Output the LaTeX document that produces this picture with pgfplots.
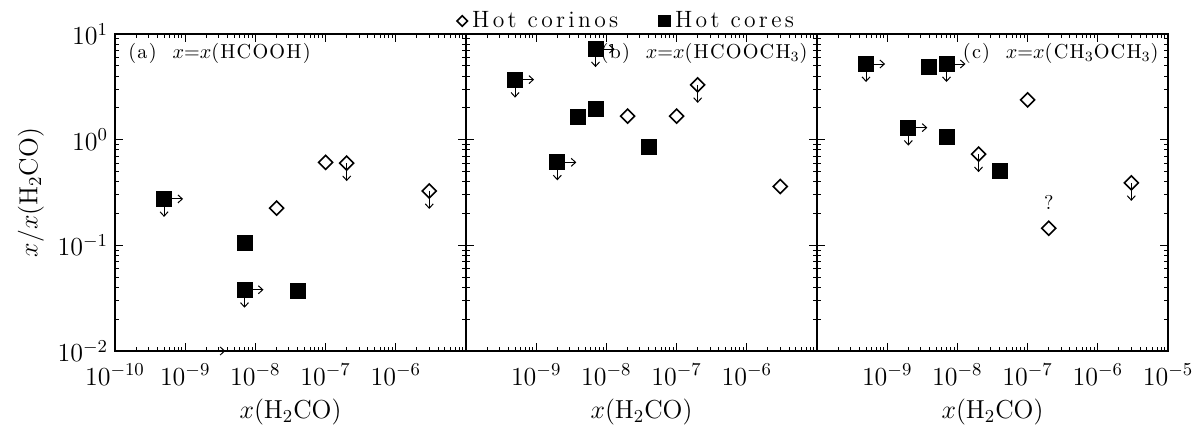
\RequirePackage{fix-cm}
\documentclass[border=0pt]{standalone}
\usepackage{fontspec}
\usepackage{pgfplots}
\pgfplotsset{compat=1.18}
\usetikzlibrary{arrows.meta}

\newfontfamily\lsleg[LetterSpace=14]{Latin Modern Roman}
\newfontfamily\lspan[LetterSpace=6]{Latin Modern Roman}
\newcommand\tickfont{\fontsize{13}{15}\selectfont}
\newcommand\legtext[1]{{\fontsize{11.8}{14}\selectfont\lsleg #1}}
\newcommand\paneltext[1]{{\fontsize{10.1}{12}\selectfont\lspan #1}}

% mark building blocks
\newcommand\arrset{\pgfsetlinewidth{0.5pt}\pgfsetarrowsend{Straight Barb[length=2.2pt,width=4pt]}}
\newcommand\arrdown{\pgfpathmoveto{\pgfqpoint{0pt}{0pt}}\pgfpathlineto{\pgfqpoint{0pt}{-9pt}}\pgfusepath{stroke}}
\newcommand\arrright{\pgfpathmoveto{\pgfqpoint{0pt}{0pt}}\pgfpathlineto{\pgfqpoint{9.5pt}{0pt}}\pgfusepath{stroke}}
\newcommand\sqfill{\pgfsetarrows{-}\pgfpathrectangle{\pgfqpoint{-\pgfplotmarksize}{-\pgfplotmarksize}}{\pgfqpoint{2\pgfplotmarksize}{2\pgfplotmarksize}}\pgfusepath{fill}}
\newcommand\diapath{\pgfsetarrows{-}\pgfsetlinewidth{0.8pt}%
  \pgfpathmoveto{\pgfqpoint{0pt}{\pgfplotmarksize}}%
  \pgfpathlineto{\pgfqpoint{\pgfplotmarksize}{0pt}}%
  \pgfpathlineto{\pgfqpoint{0pt}{-\pgfplotmarksize}}%
  \pgfpathlineto{\pgfqpoint{-\pgfplotmarksize}{0pt}}%
  \pgfpathclose\pgfusepath{stroke}}
\pgfdeclareplotmark{sq}{\sqfill}
\pgfdeclareplotmark{sqdr}{\arrset\arrdown\arrright\sqfill}
\pgfdeclareplotmark{ra}{\arrset\arrright}
\pgfdeclareplotmark{di}{\diapath}
\pgfdeclareplotmark{did}{\diapath\arrset\arrdown}

\begin{document}
\begin{tikzpicture}
\path[use as bounding box] (-57.5pt,-37.5pt) rectangle (540.5pt,175.5pt);

% ---------------- panel (a): HCOOH
\begin{axis}[at={(0pt,0pt)}, anchor=south west,
  xmode=log, ymode=log,
  xmin=1e-10, xmax=1e-5, ymin=1e-2, ymax=1e1,
  scale only axis, width=175.5pt, height=158.5pt,
  tick align=inside, tick pos=both,
  xtick={1e-10,1e-9,1e-8,1e-7,1e-6,1e-5},
  ytick={1e-2,1e-1,1e0,1e1},
  major tick length=4pt, minor tick length=2pt,
  axis line style={line width=1pt},
  tick style={line width=0.5pt, black},
  tick label style={font=\tickfont},
  label style={font=\tickfont},
  xticklabel style={yshift=-3pt},
  xlabel={$x(\mathrm{H_2CO})$},
  xticklabels={$10^{-10}$,$10^{-9}$,$10^{-8}$,$10^{-7}$,$10^{-6}$,{}},
  yticklabels={$10^{-2}$,$10^{-1}$,$10^{0}$,$10^{1}$},
  ylabel={$x/x(\mathrm{H_2CO})$}]
% hot corinos
\addplot[only marks, mark=di, mark size=3.5pt, black] coordinates {(2e-8,0.225) (1e-7,0.61)};
\addplot[only marks, mark=did, mark size=3.5pt, black] coordinates {(2e-7,0.60) (3e-6,0.327)};
% hot cores
\addplot[only marks, mark=sq, mark size=4pt, black] coordinates {(7e-9,0.106) (4e-8,0.037)};
\addplot[only marks, mark=sqdr, mark size=4pt, black] coordinates {(5e-10,0.275) (7e-9,0.038)};
\addplot[only marks, mark=ra, mark size=4pt, black] coordinates {(2e-9,0.01)};
\node[anchor=west, inner sep=0pt] at ([xshift=6.5pt,yshift=-9.5pt]rel axis cs:0,1) {\paneltext{(a)\ \ $x{=}x$(HCOOH)}};
\end{axis}

% ---------------- panel (b): HCOOCH3
\begin{axis}[at={(175.5pt,0pt)}, anchor=south west,
  xmode=log, ymode=log,
  xmin=1e-10, xmax=1e-5, ymin=1e-2, ymax=1e1,
  scale only axis, width=175.5pt, height=158.5pt,
  tick align=inside, tick pos=both,
  xtick={1e-10,1e-9,1e-8,1e-7,1e-6,1e-5},
  ytick={1e-2,1e-1,1e0,1e1},
  major tick length=4pt, minor tick length=2pt,
  axis line style={line width=1pt},
  tick style={line width=0.5pt, black},
  tick label style={font=\tickfont},
  label style={font=\tickfont},
  xticklabel style={yshift=-3pt},
  xlabel={$x(\mathrm{H_2CO})$},
  xticklabels={{},$10^{-9}$,$10^{-8}$,$10^{-7}$,$10^{-6}$,{}},
  yticklabels={},
  legend columns=2,
  legend style={at={(0.459,1)}, anchor=south, yshift=-2.5pt, draw=none, fill=none,
    /tikz/every even column/.append style={column sep=18pt}},
  legend cell align=left]
\addlegendimage{only marks, mark=di, mark size=2.6pt, black}
\addlegendentry{\legtext{Hot corinos}}
\addlegendimage{only marks, mark=sq, mark size=3.2pt, black}
\addlegendentry{\legtext{Hot cores}}
% hot corinos
\addplot[only marks, mark=di, mark size=3.5pt, black, forget plot] coordinates {(2e-8,1.67) (1e-7,1.67) (3e-6,0.36)};
\addplot[only marks, mark=did, mark size=3.5pt, black, forget plot] coordinates {(2e-7,3.3)};
% hot cores
\addplot[only marks, mark=sq, mark size=4pt, black, forget plot] coordinates {(4e-9,1.65) (7e-9,1.95) (4e-8,0.86)};
\addplot[only marks, mark=sqdr, mark size=4pt, black, forget plot] coordinates {(7e-9,7.2) (5e-10,3.7) (2e-9,0.61)};
\node[anchor=east, inner sep=0pt] at ([xshift=-4.5pt,yshift=-9.5pt]rel axis cs:1,1) {\paneltext{(b)\ \ $x{=}x$(HCOOCH$_3$)}};
\end{axis}

% ---------------- panel (c): CH3OCH3
\begin{axis}[at={(351pt,0pt)}, anchor=south west,
  xmode=log, ymode=log,
  xmin=1e-10, xmax=1e-5, ymin=1e-2, ymax=1e1,
  scale only axis, width=175.5pt, height=158.5pt,
  tick align=inside, tick pos=both,
  xtick={1e-10,1e-9,1e-8,1e-7,1e-6,1e-5},
  ytick={1e-2,1e-1,1e0,1e1},
  major tick length=4pt, minor tick length=2pt,
  axis line style={line width=1pt},
  tick style={line width=0.5pt, black},
  tick label style={font=\tickfont},
  label style={font=\tickfont},
  xticklabel style={yshift=-3pt},
  xlabel={$x(\mathrm{H_2CO})$},
  xticklabels={{},$10^{-9}$,$10^{-8}$,$10^{-7}$,$10^{-6}$,$10^{-5}$},
  yticklabels={}]
% hot corinos
\addplot[only marks, mark=di, mark size=3.5pt, black] coordinates {(1e-7,2.38) (2e-7,0.145)};
\addplot[only marks, mark=did, mark size=3.5pt, black] coordinates {(2e-8,0.73) (3e-6,0.39)};
% hot cores
\addplot[only marks, mark=sq, mark size=4pt, black] coordinates {(4e-9,4.9) (7e-9,1.07) (4e-8,0.506)};
\addplot[only marks, mark=sqdr, mark size=4pt, black] coordinates {(5e-10,5.2) (7e-9,5.2) (2e-9,1.3)};
\node at (axis cs:2e-7,0.256) {\fontsize{10}{12}\selectfont ?};
\node[anchor=east, inner sep=0pt] at ([xshift=-4.5pt,yshift=-9.5pt]rel axis cs:1,1) {\paneltext{(c)\ \ $x{=}x$(CH$_3$OCH$_3$)}};
\end{axis}
\end{tikzpicture}
\end{document}
